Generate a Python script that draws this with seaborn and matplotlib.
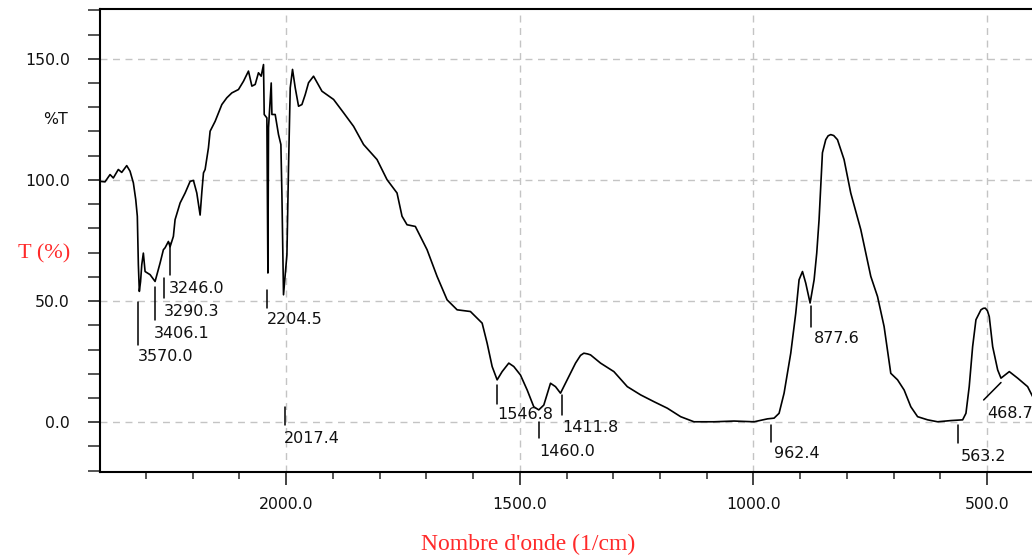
import matplotlib
matplotlib.use("Agg")
import matplotlib.pyplot as plt
from matplotlib.ticker import MultipleLocator, FuncFormatter
import seaborn as sns
import pandas as pd

# ---- spectrum data (wavenumber in 1/cm, transmittance in %) ----
wavenumber = [2398.6, 2387.9, 2377.1, 2370.1, 2359.4, 2352.1, 2341.4, 2334.3, 2327.2, 2322.1,
              2318.7, 2316.5, 2314.4, 2311.8, 2309.2, 2305.8, 2302.1, 2291.4, 2280.7, 2270.0,
              2262.9, 2259.3, 2252.2, 2248.6, 2241.5, 2237.9, 2227.1, 2216.4, 2205.7, 2198.6,
              2191.4, 2184.3, 2180.6, 2177.1, 2173.6, 2166.5, 2162.9, 2152.1, 2137.8, 2127.1,
              2116.4, 2102.2, 2091.5, 2080.8, 2073.5, 2066.4, 2059.4, 2053.6, 2048.6, 2047.1,
              2041.4, 2039.2, 2037.9, 2032.1, 2030.6, 2023.6, 2016.5, 2011.4, 2009.2, 2005.8,
              1998.5, 1995.1, 1991.4, 1986.5, 1980.7, 1973.6, 1966.4, 1959.3, 1952.2, 1941.5,
              1923.5, 1898.6, 1877.2, 1855.8, 1834.4, 1805.6, 1784.2, 1762.8, 1752.1, 1741.4,
              1723.6, 1698.5, 1677.1, 1655.6, 1634.2, 1605.7, 1580.6, 1569.9, 1559.2, 1548.5,
              1537.8, 1523.6, 1512.9, 1498.6, 1484.2, 1470.1, 1459.4, 1448.6, 1434.3, 1423.6,
              1412.9, 1398.5, 1380.7, 1370.0, 1362.9, 1355.0, 1348.6, 1327.1, 1298.6, 1269.9,
              1241.4, 1212.9, 1184.2, 1155.7, 1127.2, 1084.3, 1041.5, 998.6, 969.9, 955.7,
              945.0, 934.3, 920.0, 909.3, 902.2, 894.9, 887.9, 878.6, 870.0, 864.4,
              859.4, 855.9, 852.2, 845.1, 840.0, 834.4, 828.0, 820.0, 805.9, 791.6,
              770.1, 748.7, 734.3, 720.2, 705.9, 691.4, 677.3, 663.0, 648.5, 627.0,
              605.7, 577.1, 552.1, 545.0, 538.0, 530.7, 523.6, 512.9, 508.0, 503.6,
              499.0, 495.1, 487.8, 477.1, 470.0, 452.2, 434.3, 413.0, 402.2]
transmittance = [99.4, 99.2, 102.2, 100.8, 104.3, 103.1, 105.9, 103.6, 98.8, 91.9,
                 85.0, 65.0, 54.0, 58.0, 65.0, 69.8, 62.2, 60.9, 58.1, 65.7,
                 71.2, 72.0, 74.6, 72.4, 76.7, 83.6, 90.5, 94.6, 99.4, 99.8,
                 94.6, 85.5, 95.0, 102.9, 104.3, 113.2, 120.1, 124.2, 131.1, 133.9,
                 135.9, 137.3, 140.7, 144.9, 138.7, 139.4, 144.2, 142.8, 147.6, 127.0,
                 125.6, 61.6, 121.5, 140.0, 127.0, 127.0, 118.7, 114.6, 93.9, 52.6,
                 69.1, 105.0, 138.0, 145.6, 138.0, 130.4, 131.1, 135.2, 140.1, 142.8,
                 136.6, 133.2, 127.7, 122.1, 114.6, 108.4, 100.1, 94.6, 85.0, 81.5,
                 80.8, 71.2, 60.2, 50.5, 46.4, 45.7, 40.9, 32.6, 23.0, 17.5,
                 20.9, 24.4, 23.0, 19.5, 13.3, 6.4, 5.1, 7.1, 16.1, 14.7,
                 12.0, 17.5, 24.4, 27.6, 28.5, 28.2, 27.8, 24.4, 20.9, 14.7,
                 11.3, 8.5, 5.8, 2.3, 0.2, 0.2, 0.5, 0.2, 1.4, 1.7,
                 3.7, 12.0, 28.5, 45.0, 58.8, 62.2, 57.4, 49.2, 58.8, 69.8,
                 83.6, 97.4, 111.2, 116.6, 118.2, 118.7, 118.3, 116.6, 108.4, 94.6,
                 79.5, 60.2, 51.9, 39.5, 20.2, 17.5, 13.3, 6.4, 2.3, 1.0,
                 0.2, 0.7, 1.0, 3.7, 14.7, 31.2, 42.3, 46.4, 47.0, 47.1,
                 46.0, 43.6, 31.2, 21.6, 18.2, 20.9, 18.2, 14.7, 10.6]

# ---- peak annotations (label text, marker line ends, label anchor) ----
peak_text = ["3570.0", "3406.1", "3290.3", "3246.0", "2204.5", "2017.4", "1546.8",
             "1460.0", "1411.8", "962.4", "877.6", "563.2", "468.7"]
mark_x0 = [2316.5, 2280.7, 2260.8, 2248.6, 2040.7, 2002.8, 1547.9,
           1459.4, 1409.2, 962.9, 877.1, 562.8, 507.1]
mark_x1 = [2316.5, 2280.7, 2260.8, 2248.6, 2040.7, 2002.8, 1547.9,
           1459.4, 1409.2, 962.9, 877.1, 562.8, 470.0]
mark_y0 = [49.8, 56.0, 59.5, 74.1, 54.7, 6.4, 15.4, 0.2, 11.3, -1.1, 47.8, -1.1, 9.2]
mark_y1 = [31.9, 42.3, 51.2, 60.9, 47.1, -1.1, 7.7, -6.6, 3.0, -8.0, 39.5, -8.7, 16.4]
text_x = [2317.8, 2284.4, 2262.9, 2252.2, 2041.4, 2005.8, 1548.6,
          1459.4, 1409.2, 955.7, 870.0, 555.7, 500.0]
text_y = [27.1, 36.8, 45.7, 55.4, 42.3, -6.6, 3.0, -12.1, -2.1, -12.8, 34.7, -14.2, 3.7]

sns.set_theme(style="white")
plt.rcParams["font.family"] = ["DejaVu Sans"]

fig = plt.figure(figsize=(10.32, 5.58), dpi=100)
ax = fig.add_axes([100 / 1032, (558 - 471.7) / 558, 1 - 100 / 1032 + 0.001, (471.7 - 9.3) / 558])

df = pd.DataFrame({"wn": wavenumber, "T": transmittance})
sns.lineplot(data=df, x="wn", y="T", ax=ax, sort=False, estimator=None,
             color="black", linewidth=1.2)

for x0, x1, y0, y1 in zip(mark_x0, mark_x1, mark_y0, mark_y1):
    ax.plot([x0, x1], [y0, y1], color="black", linewidth=1.1)
for t, x, y in zip(peak_text, text_x, text_y):
    ax.text(x, y, t, ha="left", va="center", fontsize=11.5, color="#111111")

ax.set_xlim(2398.6, 401.4)
ax.set_ylim(-20.4, 170.4)

ax.xaxis.set_major_locator(MultipleLocator(500))
ax.xaxis.set_minor_locator(MultipleLocator(100))
ax.yaxis.set_major_locator(MultipleLocator(50))
ax.yaxis.set_minor_locator(MultipleLocator(10))
ax.xaxis.set_major_formatter(FuncFormatter(lambda v, p: f"{v:.1f}"))
ax.yaxis.set_major_formatter(FuncFormatter(lambda v, p: f"{v:.1f}"))

ax.tick_params(axis="x", which="major", direction="out", length=9.4, width=1.1,
               pad=8.5, labelsize=11.3, colors="#111111", bottom=True)
ax.tick_params(axis="x", which="minor", direction="out", length=5, width=1.1, bottom=True)
ax.tick_params(axis="y", which="both", direction="out", length=8.6, width=1.1, left=True)
ax.tick_params(axis="y", which="major", pad=13, labelsize=11.3, colors="#111111")

ax.grid(True, which="major", color="#c4c4c4", linestyle=(0, (5, 4)), linewidth=1.0)
ax.set_axisbelow(True)

for side in ["left", "bottom", "top"]:
    ax.spines[side].set_visible(True)
    ax.spines[side].set_color("black")
    ax.spines[side].set_linewidth(1.5)
ax.spines["right"].set_visible(False)

ax.set_xlabel("")
ax.set_ylabel("")

fig.text(55 / 1032, 1 - 119 / 558, "%T", ha="center", va="center", fontsize=11.3, color="#111111")
fig.text(44 / 1032, 1 - 254 / 558, "T (%)", ha="center", va="center", fontsize=16,
         color="#ff2a2a", family="Liberation Serif")
fig.text(528 / 1032, 1 - 544 / 558, "Nombre d'onde (1/cm)", ha="center", va="center",
         fontsize=17, color="#ff2a2a", family="Liberation Serif")

fig.savefig("out.png", dpi=100)
